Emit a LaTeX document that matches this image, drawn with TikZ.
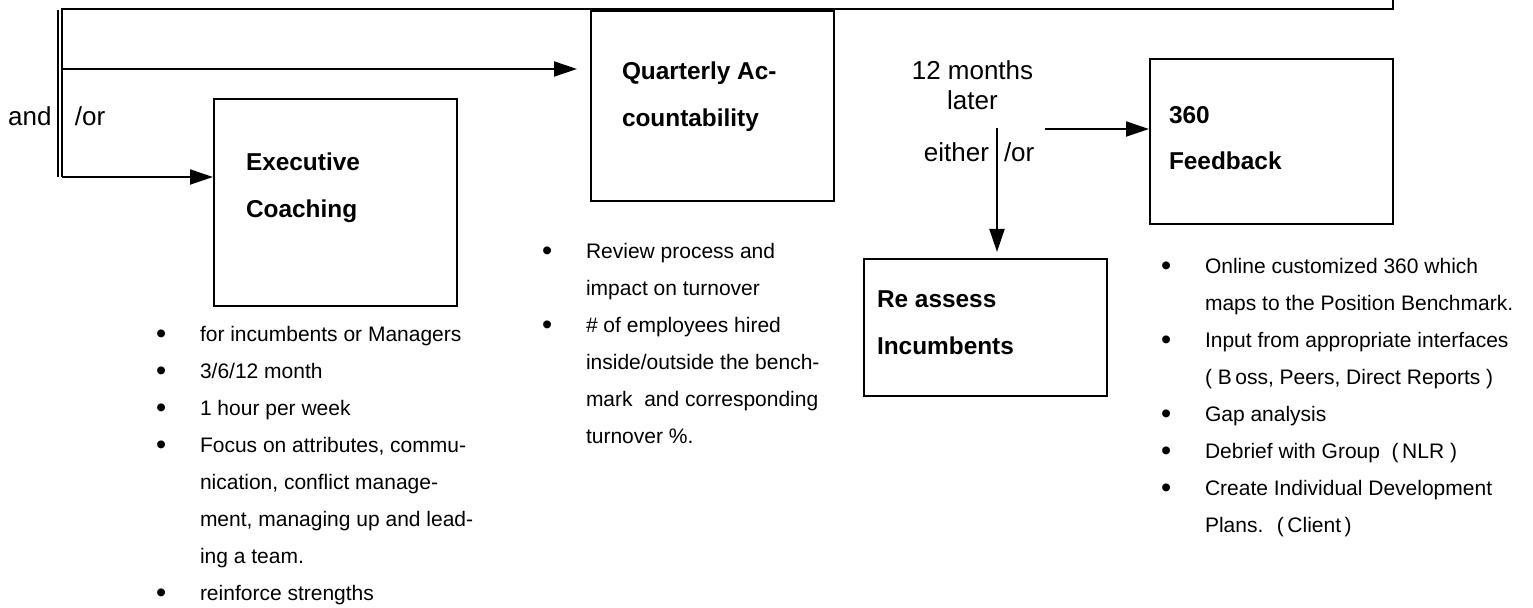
\documentclass[tikz,border=0pt]{standalone}
\usepackage{fontspec}
\setmainfont{Liberation Sans}
\usetikzlibrary{arrows.meta}

\tikzset{
	box/.style={draw, line width=1pt, inner sep=0pt, anchor=north west, minimum width=121.5pt},
	boxtext/.style={font=\bfseries\fontsize{12.2}{23.2}\selectfont, align=left, inner sep=0pt, anchor=north west},
	lbl/.style={font=\fontsize{13}{15}\selectfont, inner sep=0pt},
	bullets/.style={font=\fontsize{10.5}{18.5}\selectfont, align=left, inner sep=0pt, anchor=north west},
	arr/.style={line width=1pt, -{Triangle[length=11.5pt, width=7.5pt]}},
}
\newcommand{\bul}{\makebox[22pt][l]{\raisebox{-1pt}[0pt][0pt]{\fontsize{14.5}{14.5}\selectfont\textbullet}}}
\newcommand{\ind}{\hspace*{22pt}}

\begin{document}
\begin{tikzpicture}[x=0.5pt, y=-0.5pt, line width=1pt]
	\useasboundingbox (0,0) rectangle (1533,608);

	\node[box, minimum height=103.5pt] (coach) at (213,98) {};
	\node[box, minimum height=95pt] (qa) at (590,10) {};
	\node[box, minimum height=82.5pt] (fb) at (1149,58) {};
	\node[box, minimum height=68.5pt] (ra) at (863,258) {};

	\node[boxtext] (coachtxt) at (245,152) {Executive\\Coaching};
	\node[boxtext] (qatxt) at (621,61) {Quarterly Ac-\\countability};
	\node[boxtext] (fbtxt) at (1168,105) {360\\Feedback};
	\node[boxtext] (ratxt) at (876,290) {Re assess\\Incumbents};

	\coordinate (s1) at (62,69);
	\coordinate (s2) at (62,177);
	\coordinate (t1) at (1045,129);
	\coordinate (t2) at (997,128);

	\draw (1393,0) |- (62,9) -- (s2);
	\draw (58,10) -- (58,177);
	\draw[arr, shorten >=6.5pt] (s1) -- (s1 -| qa.west);
	\draw[arr] (s2) -- (s2 -| coach.west);
	\draw[arr] (t1) -- (t1 -| fb.west);
	\draw[arr, shorten >=3pt] (t2) -- (t2 |- ra.north);

	\node[lbl, anchor=base east] (and) at (52.5,126) {and};
	\node[lbl, anchor=base west] (or1) at (74,126) {/or};
	\node[lbl, anchor=north, align=center] (later) at (972.5,59.5) {12 months\\later};
	\node[lbl, anchor=base east] (either) at (990,161.7) {either};
	\node[lbl, anchor=base west] (or2) at (1003,161.7) {/or};

	\node[bullets] (coachlist) at (155,325) {\bul for incumbents or Managers\\
		\bul 3/6/12 month\\
		\bul 1 hour per week\\
		\bul Focus on attributes, commu-\\
		\ind nication, conflict manage-\\
		\ind ment, managing up and lead-\\
		\ind ing a team.\\
		\bul reinforce strengths};
	\node[bullets] (qalist) at (541,242) {\bul Review process and\\
		\ind impact on turnover\\
		\bul \# of employees hired\\
		\ind inside/outside the bench-\\
		\ind mark~ and corresponding\\
		\ind turnover \%.};
	\node[bullets] (fblist) at (1160,257) {\bul Online customized 360 which\\
		\ind maps to the Position Benchmark.\\
		\bul Input from appropriate interfaces\\
		\ind ( B\,oss, Peers, Direct Reports )\\
		\bul Gap analysis\\
		\bul Debrief with Group~ (\,NLR )\\
		\bul Create Individual Development\\
		\ind Plans.~ (\,Client\,)};
\end{tikzpicture}
\end{document}
